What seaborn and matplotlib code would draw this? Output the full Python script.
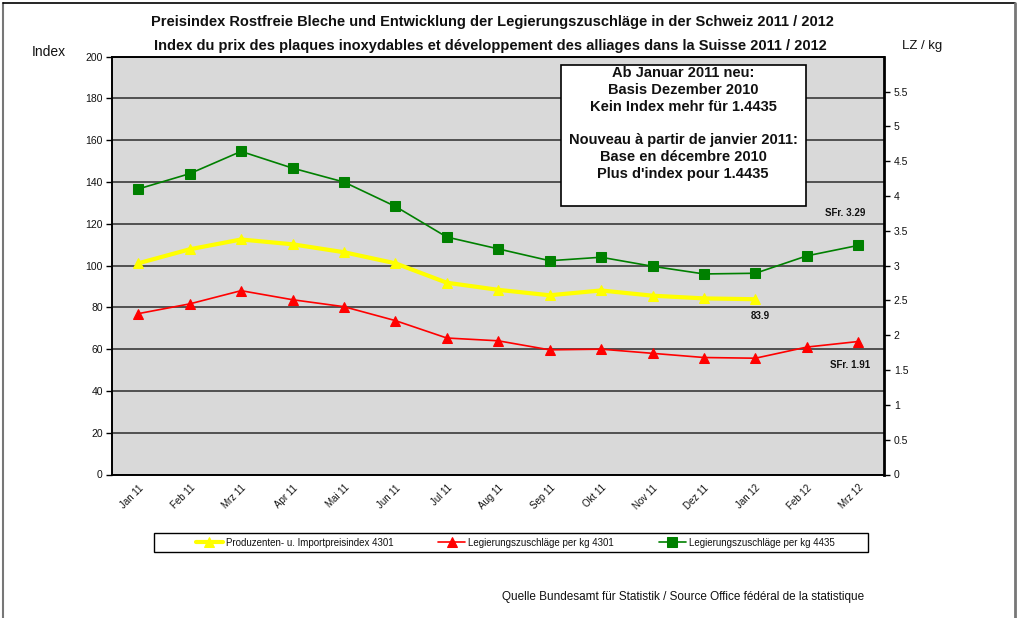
import numpy as np
import pandas as pd
import matplotlib as mpl
import matplotlib.pyplot as plt
import matplotlib.transforms as mtransforms
import seaborn as sns
from matplotlib.patches import Rectangle
from matplotlib.lines import Line2D

# Colores
YELLOW = '#ffff00'
RED = '#ff0000'
GREEN = '#008000'
PLOT_BKGROUND = '#d9d9d9'
GRID = '#3a3a3a'
TXT = '#111111'

# Datos
months = ['Jan 11', 'Feb 11', 'Mrz 11', 'Apr 11', 'Mai 11', 'Jun 11', 'Jul 11', 'Aug 11',
          'Sep 11', 'Okt 11', 'Nov 11', 'Dez 11', 'Jan 12', 'Feb 12', 'Mrz 12']
index_4301 = [101.1, 107.8, 112.5, 110.2, 106.4, 101.1, 91.8, 88.4,
              85.8, 88.1, 85.6, 84.3, 83.9, np.nan, np.nan]
lz_4301 = [2.31, 2.45, 2.64, 2.51, 2.41, 2.21, 1.96, 1.92,
           1.79, 1.80, 1.74, 1.68, 1.67, 1.83, 1.91]
lz_4435 = [4.10, 4.32, 4.64, 4.40, 4.20, 3.85, 3.41, 3.24,
           3.07, 3.12, 2.99, 2.88, 2.89, 3.14, 3.29]

labels = ['Produzenten- u. Importpreisindex 4301',
          'Legierungszuschläge per kg 4301',
          'Legierungszuschläge per kg 4435']

df = pd.DataFrame({'pos': np.arange(len(months)), 'month': months,
                   'idx': index_4301, 'lz4301': lz_4301, 'lz4435': lz_4435})

sns.set_style('white')
plt.rcParams['font.family'] = ['Liberation Sans', 'DejaVu Sans']

W, H = 1020, 618
fig = plt.figure(figsize=(W / 100, H / 100), dpi=100)
fig.patch.set_facecolor('white')

def fx(px):
    return px / W

def fy(py):
    return 1 - py / H

ax = fig.add_axes([fx(112.5), fy(474.5), fx(884) - fx(112.5), fy(56.7) - fy(474.5)])
ax.set_facecolor(PLOT_BKGROUND)
ax2 = ax.twinx()

# Serie indice (eje izquierdo)
sns.lineplot(data=df, x='pos', y='idx', ax=ax, color=YELLOW, linewidth=3,
             marker='^', markersize=6.5, markeredgecolor=YELLOW, label=labels[0], zorder=3)
# Series LZ (eje derecho)
sns.lineplot(data=df, x='pos', y='lz4301', ax=ax2, color=RED, linewidth=1.2,
             marker='^', markersize=6.5, markeredgecolor=RED, label=labels[1])
sns.lineplot(data=df, x='pos', y='lz4435', ax=ax2, color=GREEN, linewidth=1.2,
             marker='s', markersize=6.5, markeredgecolor=GREEN, label=labels[2])

# Ejes
ax.set_xlim(-0.5, len(months) - 0.5)
ax.set_ylim(0, 200)
ax2.set_ylim(0, 6)
ax.set_yticks(np.arange(0, 201, 20))
ax2.set_yticks(np.arange(0, 5.51, 0.5))
ax2.set_yticklabels([f'{v:g}' for v in np.arange(0, 5.51, 0.5)])
ax.set_xticks(df['pos'])
ax.set_xticklabels(months, rotation=45, ha='right', rotation_mode='anchor', fontsize=7, color=TXT)
# etiquetas un poco a la izquierda, como en el original
shift = mtransforms.ScaledTranslation(-3 / 100, 0, fig.dpi_scale_trans)
for lbl in ax.get_xticklabels():
    lbl.set_transform(lbl.get_transform() + shift)
ax.set_xticks(np.arange(-0.5, len(months), 1), minor=True)
ax.tick_params(axis='x', which='major', length=0, pad=6)
ax.tick_params(axis='x', which='minor', length=4, width=1, color='black', direction='out')
ax.tick_params(axis='y', length=4, width=1, color='black', direction='out', labelsize=7.5, labelcolor=TXT, pad=3)
ax2.tick_params(axis='y', length=4, width=1, color='black', direction='out', labelsize=7.5, labelcolor=TXT, pad=3)
ax.set_xlabel('')
ax.set_ylabel('')
ax2.set_ylabel('')
ax.yaxis.grid(True, color=GRID, linewidth=1.2)
ax.set_axisbelow(True)
for s in ['left', 'bottom', 'top']:
    ax.spines[s].set_color('black')
    ax.spines[s].set_linewidth(1.4)
ax.spines['right'].set_visible(False)
for s in ['left', 'bottom', 'top']:
    ax2.spines[s].set_visible(False)
ax2.spines['right'].set_color('black')
ax2.spines['right'].set_linewidth(2)

# Anotaciones
ax2.annotate(f'SFr. {lz_4435[-1]:.2f}', xy=(df['pos'].iloc[-1], lz_4435[-1]), xytext=(5, 23),
             textcoords='offset points', ha='right', va='center', fontsize=7, fontweight='bold', color=TXT)
ax2.annotate(f'SFr. {lz_4301[-1]:.2f}', xy=(df['pos'].iloc[-1], lz_4301[-1]), xytext=(8.5, -17),
             textcoords='offset points', ha='right', va='center', fontsize=7, fontweight='bold', color=TXT)
last = df['idx'].last_valid_index()
ax.annotate(f'{index_4301[last]:.1f}', xy=(df['pos'].iloc[last], index_4301[last]), xytext=(3.4, -12.2),
            textcoords='offset points', ha='center', va='center', fontsize=7, fontweight='bold', color=TXT)

# Leyenda (marco aparte, como en Excel)
h1, l1 = ax.get_legend_handles_labels()
h2, l2 = ax2.get_legend_handles_labels()
ax.get_legend().remove()
ax2.get_legend().remove()
fig.add_artist(Rectangle((fx(154), fy(552)), fx(868) - fx(154), fy(533) - fy(552),
                         transform=fig.transFigure, facecolor='white', edgecolor='black',
                         linewidth=1, zorder=4))
leg = fig.legend(h1 + h2, l1 + l2, loc='center', ncol=3,
                 bbox_to_anchor=(fx(515), fy(542.5)),
                 fontsize=7, frameon=False, handlelength=2.8, handletextpad=0.3,
                 columnspacing=4.6, borderpad=0, borderaxespad=0)
leg.set_zorder(5)
for t in leg.get_texts():
    t.set_color(TXT)

# Titulos y textos
fig.text(fx(492), fy(22), 'Preisindex Rostfreie Bleche und Entwicklung der Legierungszuschläge in der Schweiz 2011 / 2012',
         ha='center', va='center', fontsize=10.5, fontweight='bold', color=TXT)
fig.text(fx(490), fy(46), 'Index du prix des plaques inoxydables et développement des alliages dans la Suisse 2011 / 2012',
         ha='center', va='center', fontsize=10.5, fontweight='bold', color=TXT)
fig.text(fx(49), fy(52), 'Index', ha='center', va='center', fontsize=10, color=TXT)
fig.text(fx(922), fy(46), 'LZ / kg', ha='center', va='center', fontsize=9.5, color=TXT)
fig.text(fx(502), fy(597), 'Quelle Bundesamt für Statistik / Source Office fédéral de la statistique',
         ha='left', va='center', fontsize=8.5, color=TXT)

# Caja de texto
fig.add_artist(Rectangle((fx(560.7), fy(206)), fx(805.7) - fx(560.7), fy(65) - fy(206),
                         transform=fig.transFigure, facecolor='white', edgecolor='black',
                         linewidth=1.2, zorder=5))
box_txt = ('Ab Januar 2011 neu:\nBasis Dezember 2010\nKein Index mehr für 1.4435\n\n'
           'Nouveau à partir de janvier 2011:\nBase en décembre 2010\nPlus d\'index pour 1.4435')
fig.text(fx(683), fy(123.5), box_txt, ha='center', va='center', fontsize=10.5, fontweight='bold',
         color=TXT, linespacing=1.27, zorder=6)

# Marco
fig.add_artist(Line2D([fx(3), fx(3)], [0, fy(3)], transform=fig.transFigure, color='#777777', linewidth=1.5))
fig.add_artist(Line2D([fx(3), fx(1015)], [fy(3), fy(3)], transform=fig.transFigure, color='black', linewidth=1.2))
fig.add_artist(Line2D([fx(1015), fx(1015)], [0, fy(3)], transform=fig.transFigure, color='#777777', linewidth=2))

plt.savefig('out.png', dpi=100)
